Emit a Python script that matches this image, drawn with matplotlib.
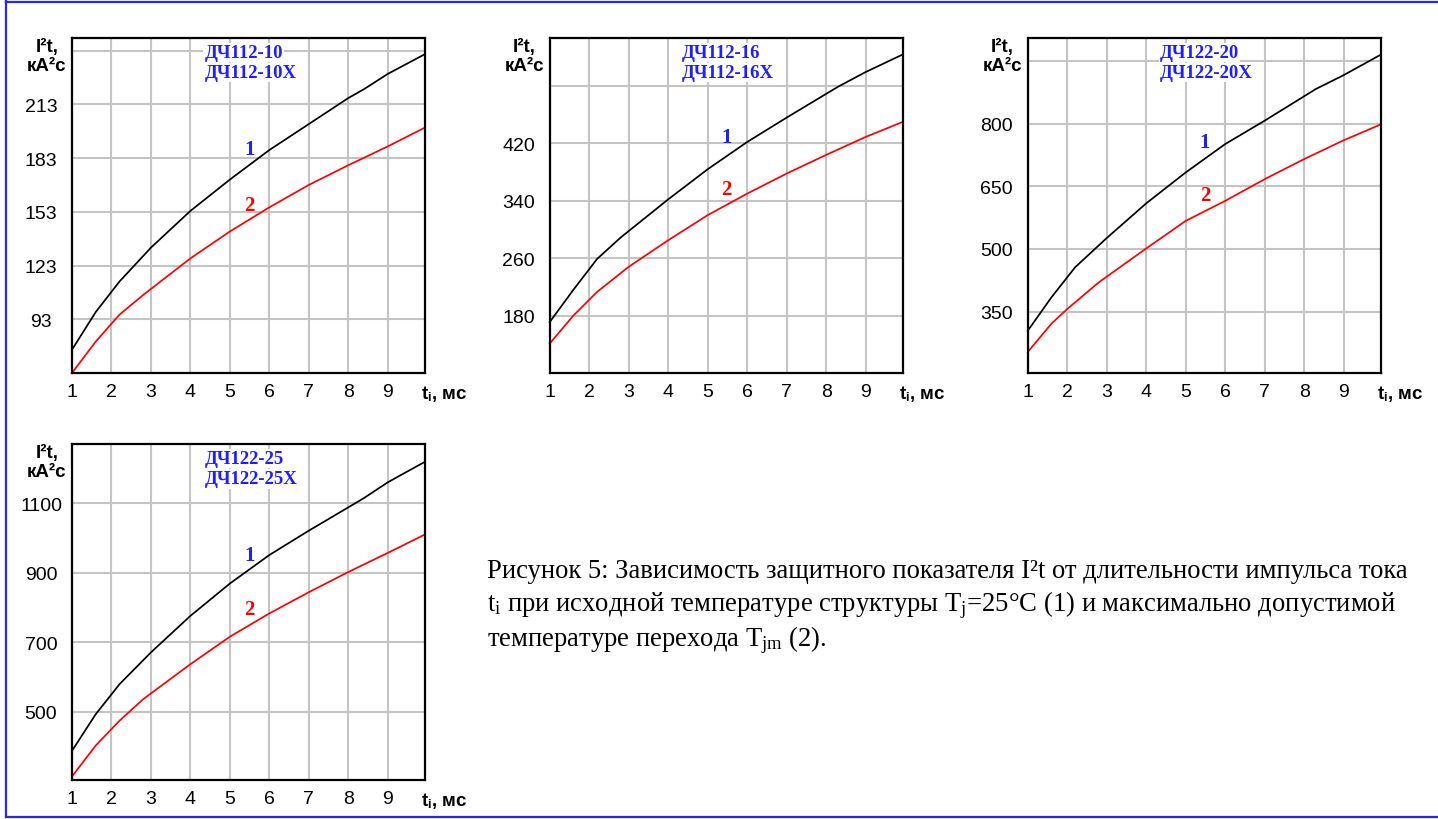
import matplotlib
matplotlib.use('Agg')
import matplotlib.pyplot as plt
from matplotlib.lines import Line2D

# ---------------- data ----------------
x_ticks = [1, 2, 3, 4, 5, 6, 7, 8, 9]
x_max = 9.94

# panel A: ДЧ112-10
a_title = ["ДЧ112-10", "ДЧ112-10Х"]
a_yticks = [93, 123, 153, 183, 213, 243]
a_ylabels = ["93", "123", "153", "183", "213", ""]
a_ylim = (63, 250)
a_t1 = [1, 1.6, 2.2, 3, 4, 5, 6, 7, 8, 8.4, 9, 9.94]
a_y1 = [76, 97, 114, 133, 153.5, 171, 187.5, 202, 216.5, 221.5, 230, 241]
a_t2 = [1, 1.6, 2.2, 2.8, 4, 5, 6, 7, 8, 9, 9.94]
a_y2 = [63, 80.5, 95.5, 106.5, 127, 142, 155.5, 168, 179, 189.5, 200]
a_lab = [(5.5, 188), (5.5, 157)]

# panel B: ДЧ112-16
b_title = ["ДЧ112-16", "ДЧ112-16Х"]
b_yticks = [180, 260, 340, 420, 500]
b_ylabels = ["180", "260", "340", "420", ""]
b_ylim = (100, 567)
b_t1 = [1, 1.6, 2.2, 2.8, 4, 5, 6, 7, 8.3, 9, 9.94]
b_y1 = [171, 216, 259, 289, 342, 384, 422, 456, 499, 519.5, 544]
b_t2 = [1, 1.6, 2.2, 3, 4, 5, 6, 7, 8, 9, 9.94]
b_y2 = [141, 180, 213, 248, 285, 320, 350, 378, 404, 429, 450]
b_lab = [(5.47, 429), (5.47, 356)]

# panel C: ДЧ122-20
c_title = ["ДЧ122-20", "ДЧ122-20Х"]
c_yticks = [350, 500, 650, 800, 950]
c_ylabels = ["350", "500", "650", "800", ""]
c_ylim = (203, 1005)
c_t1 = [1, 1.6, 2.2, 3, 4, 5, 6, 7, 8.3, 9, 9.94]
c_y1 = [304, 384, 456, 526, 609, 683, 751, 807, 883, 916, 965]
c_t2 = [1, 1.6, 2, 2.8, 4, 5, 6, 7, 8, 9, 9.94]
c_y2 = [253, 321, 356, 420, 501, 567, 615, 667, 715, 760, 798]
c_lab = [(5.49, 755), (5.49, 630)]

# panel D: ДЧ122-25
d_title = ["ДЧ122-25", "ДЧ122-25Х"]
d_yticks = [500, 700, 900, 1100]
d_ylabels = ["500", "700", "900", "1100"]
d_ylim = (304, 1270)
d_t1 = [1, 1.6, 2.2, 3, 4, 5, 6, 7, 8, 8.4, 9, 9.94]
d_y1 = [388, 493, 579, 671, 776, 869, 951, 1021, 1088, 1115, 1160, 1219]
d_t2 = [1, 1.6, 2.2, 2.8, 4, 5, 6, 7, 8, 8.4, 9, 9.94]
d_y2 = [314, 403, 474, 536, 637, 716, 783, 844, 902, 924, 957, 1010]
d_lab = [(5.5, 951), (5.5, 795)]

caption_lines = [
    "Рисунок 5: Зависимость защитного показателя I²t от длительности импульса тока",
    r"$\mathrm{t}_\mathrm{i}$ при исходной температуре структуры $\mathrm{T}_\mathrm{j}$=25°C (1) и максимально допустимой",
    r"температуре перехода $\mathrm{T}_\mathrm{jm}$ (2).",
]

# ---------------- style ----------------
plt.rcParams['font.family'] = ['Liberation Sans', 'DejaVu Sans']
plt.rcParams['mathtext.fontset'] = 'custom'
plt.rcParams['mathtext.rm'] = 'Liberation Serif'
plt.rcParams['mathtext.bf'] = 'Liberation Sans:bold'
plt.rcParams['mathtext.it'] = 'Liberation Serif:italic'

W, H = 1438, 820
fig = plt.figure(figsize=(W / 100, H / 100), dpi=100)
fig.patch.set_facecolor('white')

BLUE = '#1e1eff'
RED = '#ff0000'
GRID = '#c4c4c4'


def add_panel(px_left, px_top, px_w, px_h, title, yticks, ylabels, ylim,
              t1, y1, t2, y2, labs):
    ax = fig.add_axes([px_left / W, 1 - (px_top + px_h) / H, px_w / W, px_h / H])
    ax.set_xlim(1, x_max)
    ax.set_ylim(*ylim)
    ax.set_xticks(x_ticks)
    ax.set_xticklabels([str(v) for v in x_ticks])
    ax.set_yticks(yticks)
    ax.set_yticklabels(ylabels)
    ax.grid(True, color=GRID, linewidth=1.5)
    ax.set_axisbelow(True)
    for s in ax.spines.values():
        s.set_linewidth(1.6)
        s.set_color('black')
        s.set_zorder(5)
    ax.tick_params(axis='both', length=0, labelsize=14)
    ax.tick_params(axis='y', pad=22.3)
    ax.tick_params(axis='x', pad=7.5)
    for lbl in ax.get_yticklabels():
        lbl.set_horizontalalignment('center')
    ax.plot(t1, y1, color='black', lw=1.25, zorder=3, clip_on=False)
    ax.plot(t2, y2, color=RED, lw=1.25, zorder=3, clip_on=False)
    ax.text(labs[0][0], labs[0][1], "1", color=BLUE, fontsize=15, fontweight='bold',
            family='Liberation Serif', ha='center', va='center', zorder=4)
    ax.text(labs[1][0], labs[1][1], "2", color=RED, fontsize=15, fontweight='bold',
            family='Liberation Serif', ha='center', va='center', zorder=4)
    for i, line in enumerate(title):
        ax.text(4.35, 0.956 - i * 0.06, line, transform=ax.get_xaxis_transform(),
                color=BLUE, fontsize=13.5, fontweight='bold', family='Liberation Serif',
                ha='left', va='center', zorder=4,
                bbox=dict(facecolor='white', edgecolor='none', pad=0.8))
    ax.annotate("I²t,\nкА²с", xy=(0, 1), xycoords='axes fraction',
                xytext=(-25, -18), textcoords='offset pixels',
                ha='center', va='center', fontsize=13.5, fontweight='bold',
                linespacing=1.1, annotation_clip=False)
    ax.annotate(r"$\mathbf{t}_{\mathbf{i}}$, мс", xy=(1, 0), xycoords='axes fraction',
                xytext=(-4, -10), textcoords='offset pixels',
                ha='left', va='top', fontsize=13.5, fontweight='bold',
                annotation_clip=False)
    return ax


add_panel(72, 39, 353, 335, a_title, a_yticks, a_ylabels, a_ylim, a_t1, a_y1, a_t2, a_y2, a_lab)
add_panel(549.7, 39, 353, 335, b_title, b_yticks, b_ylabels, b_ylim, b_t1, b_y1, b_t2, b_y2, b_lab)
add_panel(1027.7, 39, 353, 335, c_title, c_yticks, c_ylabels, c_ylim, c_t1, c_y1, c_t2, c_y2, c_lab)
add_panel(72, 445, 353, 336, d_title, d_yticks, d_ylabels, d_ylim, d_t1, d_y1, d_t2, d_y2, d_lab)

# caption
for txt, yb in zip(caption_lines, [578, 611, 646]):
    fig.text(487 / W, 1 - yb / H, txt, family='Liberation Serif', fontsize=19.2,
             ha='left', va='baseline', color='black')

# blue frame
frame_kw = dict(color='#2a2ae6', linewidth=1.6, transform=fig.transFigure)
fig.add_artist(Line2D([5.5 / W, 5.5 / W], [1 - 2 / H, 1 - 818 / H], **frame_kw))
fig.add_artist(Line2D([5.5 / W, 1.0], [1 - 2.5 / H, 1 - 2.5 / H], **frame_kw))
fig.add_artist(Line2D([5.5 / W, 1.0], [1 - 817.5 / H, 1 - 817.5 / H], **frame_kw))

fig.savefig('out.png', dpi=100)
